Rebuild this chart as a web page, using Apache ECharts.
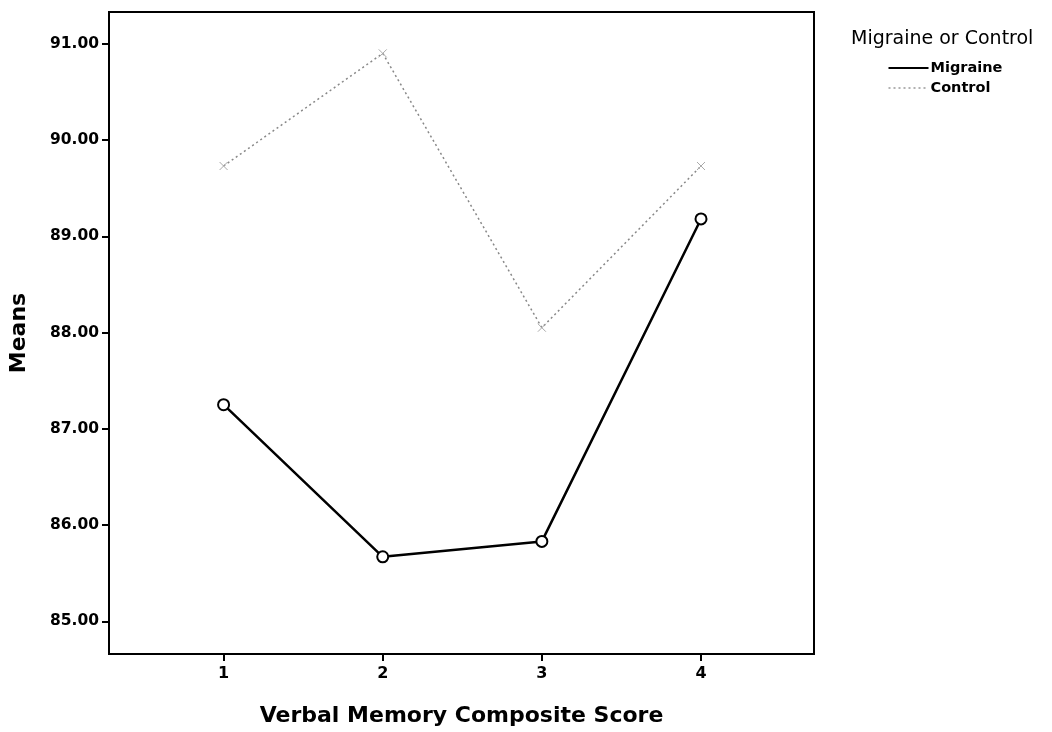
<!DOCTYPE html>
<html>
<head>
<meta charset="utf-8">
<script src="https://cdn.jsdelivr.net/npm/echarts@6/dist/echarts.min.js"></script>
<style>
  html, body { margin: 0; padding: 0; background: #fff; }
  #chart { width: 1052px; height: 732px; }
</style>
</head>
<body>
<div id="chart"></div>
<script>
// Verbal memory composite score groups and group means
const scoreGroups = [1, 2, 3, 4];
const migraineMeans = [87.25, 85.67, 85.83, 89.18];
const controlMeans = [89.73, 90.90, 88.05, 89.73];
const yTickValues = [85, 86, 87, 88, 89, 90, 91];
const groupNames = ['Migraine', 'Control'];

const FONT = '"DejaVu Sans", Verdana, sans-serif';

const toPairs = (xs, ys) => xs.map((x, i) => [x, ys[i]]);

const migraineLine = { color: '#000', width: 2.5 };
const controlLine = { color: '#888', width: 1.5, type: [2, 3] };

const chart = echarts.init(document.getElementById('chart'), null, { renderer: 'canvas' });

// Legend block: heading plus one line sample and label per group
const legendItems = groupNames.map((name, i) => ({
  type: 'group',
  left: 886,
  top: 61 + i * 20,
  children: [
    {
      type: 'line',
      shape: { x1: 0, y1: 7, x2: 40, y2: 7 },
      style: i === 0
        ? { stroke: '#000', lineWidth: 2 }
        : { stroke: '#999', lineWidth: 1.5, lineDash: [2, 3] }
    },
    {
      type: 'text',
      x: 42,
      y: 0,
      style: { text: name, font: 'bold 14.5px ' + FONT, fill: '#000' }
    }
  ]
}));

chart.setOption({
  backgroundColor: '#ffffff',
  animation: false,
  title: {
    text: 'Migraine or Control',
    left: 846,
    top: 25,
    textStyle: { fontFamily: FONT, fontSize: 19, fontWeight: 'normal', color: '#000' }
  },
  graphic: legendItems,
  grid: {
    left: 107,
    right: 238,
    top: 12,
    bottom: 71,
    show: true,
    borderColor: '#000',
    borderWidth: 2,
    backgroundColor: '#fff'
  },
  xAxis: {
    type: 'value',
    min: 0.28,
    max: 4.71,
    name: 'Verbal Memory Composite Score',
    nameLocation: 'middle',
    nameGap: 51,
    nameTextStyle: { fontFamily: FONT, fontSize: 22, fontWeight: 'bold', color: '#000' },
    axisLine: { show: true, lineStyle: { color: '#000', width: 2 } },
    axisTick: { show: true, customValues: scoreGroups, length: 7, lineStyle: { color: '#000', width: 2 } },
    axisLabel: {
      customValues: scoreGroups,
      margin: 12,
      fontFamily: FONT, fontSize: 16, fontWeight: 'bold', color: '#000'
    },
    splitLine: { show: false }
  },
  yAxis: {
    type: 'value',
    min: 84.66,
    max: 91.33,
    name: 'Means',
    nameLocation: 'middle',
    nameGap: 79,
    nameTextStyle: { fontFamily: FONT, fontSize: 22, fontWeight: 'bold', color: '#000' },
    axisLine: { show: true, lineStyle: { color: '#000', width: 2 } },
    axisTick: { show: true, customValues: yTickValues, length: 7, lineStyle: { color: '#000', width: 2 } },
    axisLabel: {
      customValues: yTickValues,
      margin: 10,
      fontFamily: FONT, fontSize: 15.5, fontWeight: 'bold', color: '#000',
      formatter: v => v.toFixed(2)
    },
    splitLine: { show: false }
  },
  series: [
    {
      name: groupNames[0],
      type: 'line',
      data: toPairs(scoreGroups, migraineMeans),
      symbol: 'circle',
      symbolSize: 11,
      itemStyle: { color: '#fff', borderColor: '#000', borderWidth: 2 },
      lineStyle: migraineLine,
      z: 3
    },
    {
      name: groupNames[1],
      type: 'line',
      data: toPairs(scoreGroups, controlMeans),
      symbol: 'path://M0,0 L10,10 M10,0 L0,10',
      symbolSize: 8,
      itemStyle: { color: 'none', borderColor: '#aaa', borderWidth: 1 },
      lineStyle: controlLine,
      z: 2
    }
  ]
});
</script>
</body>
</html>
